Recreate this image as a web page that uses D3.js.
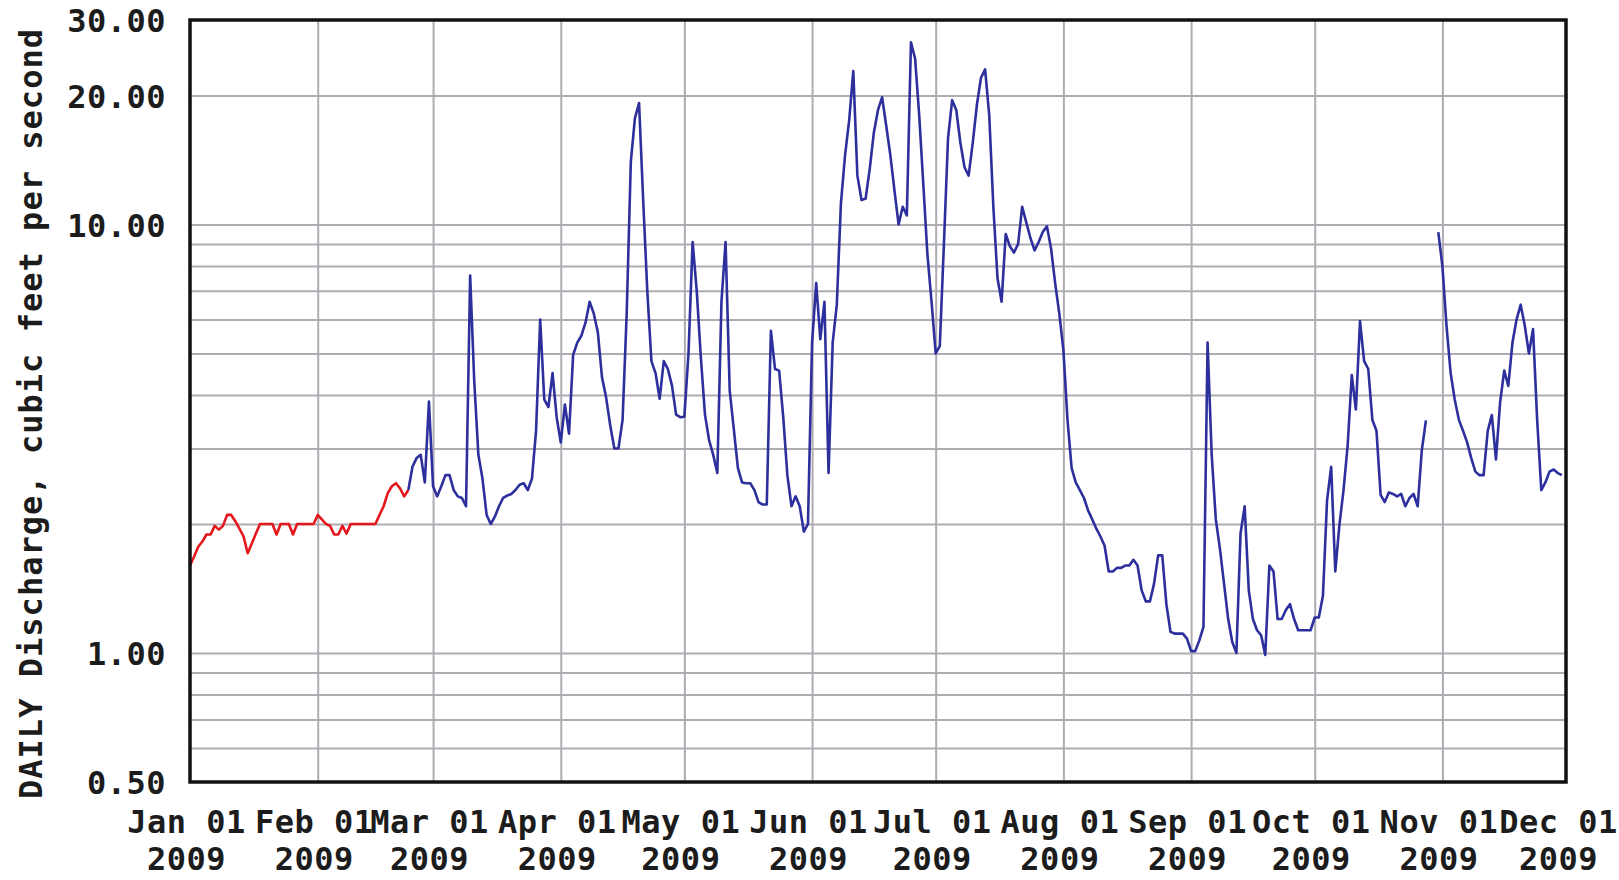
<!DOCTYPE html>
<html>
<head>
<meta charset="utf-8">
<script src="https://cdn.jsdelivr.net/npm/d3@7"></script>
<style>
  body { margin: 0; background: #fff; }
  svg { display: block; }
  .lbl { font-family: "DejaVu Sans Mono", monospace; font-weight: bold; font-size: 32px; fill: #1c1c1c; }
</style>
</head>
<body>
<svg id="chart" width="1619" height="880"></svg>
<script>
// daily discharge 2009, cubic feet per second, one array per month
const jan = [1.6, 1.68, 1.77, 1.82, 1.89, 1.89, 1.98, 1.94, 1.98, 2.1, 2.1, 2.03, 1.95, 1.87, 1.71, 1.8,
  1.9, 2.0, 2.0, 2.0, 2.0, 1.89, 2.0, 2.0, 2.0, 1.89, 2.0, 2.0, 2.0, 2.0, 2.0];
const feb = [2.1, 2.05, 2.0, 1.98, 1.89, 1.89, 1.98, 1.9, 2.0, 2.0, 2.0, 2.0, 2.0, 2.0, 2.0, 2.1,
  2.2, 2.36, 2.45, 2.49, 2.42, 2.32, 2.4, 2.72, 2.85, 2.9, 2.5, 3.86];
const mar = [2.45, 2.32, 2.45, 2.6, 2.6, 2.4, 2.32, 2.3, 2.2, 7.6, 4.3, 2.9, 2.55, 2.1, 2.0, 2.08,
  2.2, 2.3, 2.33, 2.35, 2.4, 2.47, 2.49, 2.4, 2.55, 3.3, 6.0, 3.9, 3.75, 4.5, 3.55];
const apr = [3.1, 3.8, 3.25, 4.96, 5.3, 5.5, 5.9, 6.6, 6.2, 5.6, 4.4, 3.95, 3.4, 3.0, 3.0, 3.5,
  6.2, 14.0, 17.7, 19.2, 11.4, 7.0, 4.8, 4.5, 3.92, 4.8, 4.6, 4.2, 3.6, 3.55];
const may = [3.56, 5.0, 9.1, 7.0, 4.9, 3.6, 3.14, 2.9, 2.63, 6.6, 9.1, 4.1, 3.33, 2.7, 2.5, 2.49,
  2.49, 2.4, 2.25, 2.22, 2.22, 5.65, 4.6, 4.56, 3.55, 2.6, 2.2, 2.32, 2.2, 1.92, 2.0];
const jun = [5.3, 7.3, 5.4, 6.6, 2.63, 5.3, 6.5, 11.2, 14.5, 17.5, 22.8, 13.0, 11.4, 11.5, 13.5, 16.4,
  18.5, 19.8, 17.0, 14.5, 12.0, 10.0, 11.0, 10.5, 26.6, 24.4, 18.0, 12.4, 8.5, 6.6];
const jul = [5.0, 5.2, 9.0, 15.9, 19.5, 18.5, 15.5, 13.6, 13.0, 15.5, 19.0, 22.0, 23.0, 18.0, 11.0, 7.5,
  6.6, 9.5, 8.9, 8.6, 9.0, 11.0, 10.1, 9.3, 8.7, 9.1, 9.6, 9.9, 8.8, 7.3, 6.2];
const aug = [5.1, 3.5, 2.7, 2.5, 2.4, 2.3, 2.15, 2.05, 1.95, 1.87, 1.78, 1.55, 1.55, 1.58, 1.58, 1.6,
  1.6, 1.65, 1.6, 1.4, 1.32, 1.32, 1.45, 1.69, 1.69, 1.3, 1.12, 1.11, 1.11, 1.11, 1.08];
const sep = [1.01, 1.01, 1.07, 1.15, 5.3, 2.9, 2.05, 1.75, 1.45, 1.2, 1.06, 1.0, 1.9, 2.2, 1.4, 1.2,
  1.13, 1.1, 0.99, 1.6, 1.55, 1.2, 1.2, 1.26, 1.3, 1.2, 1.13, 1.13, 1.13, 1.13];
const oct = [1.21, 1.21, 1.36, 2.27, 2.72, 1.55, 1.99, 2.4, 3.05, 4.45, 3.7, 5.95, 4.8, 4.6, 3.5, 3.3,
  2.34, 2.25, 2.37, 2.35, 2.32, 2.35, 2.2, 2.3, 2.35, 2.2, 2.97, 3.49, null, null, 9.6];
const nov = [8.0, 5.8, 4.5, 3.9, 3.5, 3.3, 3.1, 2.85, 2.65, 2.6, 2.6, 3.3, 3.59, 2.83, 3.84, 4.56,
  4.2, 5.3, 6.0, 6.5, 5.8, 5.0, 5.7, 3.5, 2.4, 2.5, 2.65, 2.68, 2.63, 2.6];

// first days are drawn red (estimated), the rest blue
const redDays = 54;

const yGridValues = [20, 10, 9, 8, 7, 6, 5, 4, 3, 2, 1, 0.9, 0.8, 0.7, 0.6];
const yLabelValues = [30, 20, 10, 1, 0.5];
const yTitle = "DAILY Discharge, cubic feet per second";

const values = [jan, feb, mar, apr, may, jun, jul, aug, sep, oct, nov].flat();
const day0 = Date.UTC(2009, 0, 1);
const data = values.map((v, i) => ({ date: new Date(day0 + i * 864e5), value: v }));

const margin = {top: 20, right: 53, bottom: 98, left: 190},
  width = 1619 - margin.left - margin.right,
  height = 880 - margin.top - margin.bottom;

const svg = d3.select("#chart");
const g = svg.append("g").attr("transform", `translate(${margin.left},${margin.top})`);

const x = d3.scaleUtc()
  .domain([new Date(day0), new Date(Date.UTC(2009, 11, 1))])
  .range([0, width]);
const y = d3.scaleLog()
  .domain([0.5, 30])
  .range([height, 0]);

const monthTicks = d3.utcMonth.range(new Date(day0), new Date(Date.UTC(2009, 11, 2)));

// grid
const gridColor = "#aeacb2";
g.append("g")
  .call(d3.axisLeft(y).tickValues(yGridValues).tickSize(-width).tickFormat(""))
  .call(a => a.select(".domain").remove())
  .call(a => a.selectAll("line").attr("stroke", gridColor).attr("stroke-width", 2));
g.append("g")
  .attr("transform", `translate(0,${height})`)
  .call(d3.axisBottom(x).tickValues(monthTicks.slice(1, -1)).tickSize(-height).tickFormat(""))
  .call(a => a.select(".domain").remove())
  .call(a => a.selectAll("line").attr("stroke", gridColor).attr("stroke-width", 2));

// lines
const line = d3.line()
  .defined(d => d.value != null)
  .x(d => x(d.date))
  .y(d => y(d.value));

g.append("path")
  .datum(data.slice(redDays - 1))
  .attr("fill", "none")
  .attr("stroke", "#2c2f9c")
  .attr("stroke-width", 2.6)
  .attr("stroke-linejoin", "round")
  .attr("d", line);

g.append("path")
  .datum(data.slice(0, redDays))
  .attr("fill", "none")
  .attr("stroke", "#e3171c")
  .attr("stroke-width", 2.6)
  .attr("stroke-linejoin", "round")
  .attr("d", line);

// frame
g.append("rect")
  .attr("width", width)
  .attr("height", height)
  .attr("fill", "none")
  .attr("stroke", "#111")
  .attr("stroke-width", 3.5);

// y labels
g.append("g")
  .call(d3.axisLeft(y).tickValues(yLabelValues).tickSize(0).tickPadding(24).tickFormat(d3.format(".2f")))
  .call(a => a.select(".domain").remove())
  .call(a => a.selectAll("text")
    .attr("class", "lbl")
    .attr("dy", "0.37em")
    .style("letter-spacing", "0.5px"));

// x labels, two rows; the last one is nudged so it stays inside the page
const fmtDay = d3.utcFormat("%b %d"), fmtYear = d3.utcFormat("%Y");
g.append("g")
  .attr("transform", `translate(0,${height})`)
  .call(d3.axisBottom(x).tickValues(monthTicks).tickSize(0))
  .call(a => a.select(".domain").remove())
  .call(a => a.selectAll(".tick text").each(function(d, i, nodes) {
    const dx = i === nodes.length - 1 ? -8 : -4;
    const t = d3.select(this).text(null)
      .attr("class", "lbl")
      .attr("y", null).attr("dy", null)
      .style("letter-spacing", "0.5px");
    t.append("tspan").attr("x", dx).attr("y", 51).text(fmtDay(d));
    t.append("tspan").attr("x", dx).attr("y", 88).text(fmtYear(d));
  }));

// y axis title
svg.append("text")
  .attr("class", "lbl")
  .attr("transform", "translate(42,414) rotate(-90)")
  .attr("text-anchor", "middle")
  .attr("textLength", 770)
  .attr("lengthAdjust", "spacing")
  .text(yTitle);
</script>
</body>
</html>
